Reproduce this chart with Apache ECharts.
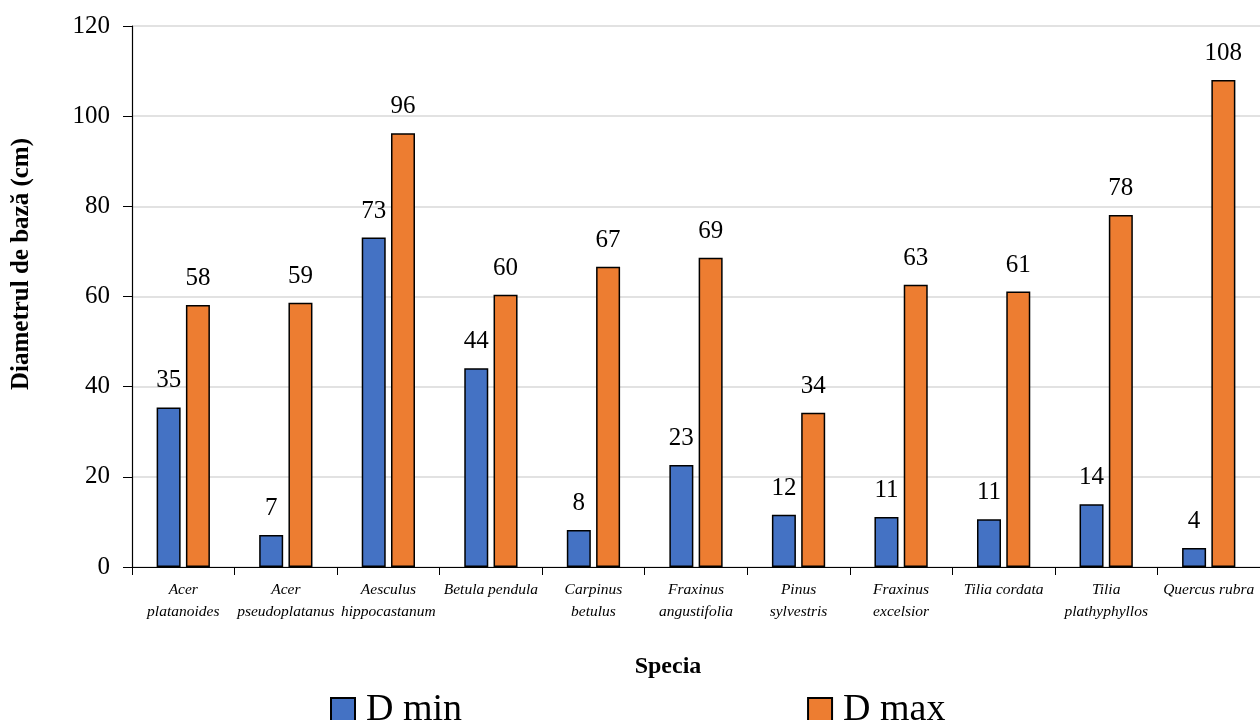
<!DOCTYPE html>
<html><head><meta charset="utf-8">
<script src="https://cdn.jsdelivr.net/npm/echarts@6/dist/echarts.min.js"></script>
<style>html,body{margin:0;padding:0;background:#fff}#c{width:1260px;height:720px}</style>
</head><body><div id="c"></div>
<script>
const categories = ["Acer\nplatanoides","Acer\npseudoplatanus","Aesculus\nhippocastanum","Betula pendula","Carpinus\nbetulus","Fraxinus\nangustifolia","Pinus\nsylvestris","Fraxinus\nexcelsior","Tilia cordata","Tilia\nplathyphyllos","Quercus rubra"];
const dMin = [35.4, 7.1, 73.1, 44.1, 8.2, 22.6, 11.6, 11.1, 10.6, 13.9, 4.2];
const dMax = [58.1, 58.6, 96.2, 60.4, 66.6, 68.6, 34.2, 62.6, 61.1, 78.1, 108.0];
const yTicks = [0, 20, 40, 60, 80, 100, 120];
const FONT = "'Liberation Serif', 'DejaVu Serif', serif";
const chart = echarts.init(document.getElementById('c'));
const lbl = {show:true, position:'top', distance:14, color:'#000', fontSize:25, fontFamily:FONT,
  formatter: p => Math.round(p.value)};
chart.setOption({
  animation:false,
  textStyle:{fontFamily:FONT},
  grid:{left:132, top:26, width:1131, height:541, containLabel:false},
  legend:{data:['D min','D max'], left:325, top:686, itemWidth:24, itemHeight:24, itemGap:345,
    textStyle:{fontSize:38, fontFamily:FONT, color:'#000', padding:[0,0,0,6]}, icon:'rect'},
  xAxis:{type:'category', data:categories,
    axisLine:{lineStyle:{color:'#000', width:1.2}},
    axisTick:{show:true, length:8, lineStyle:{color:'#000'}},
    axisLabel:{fontSize:15.5, fontStyle:'italic', color:'#000', fontFamily:FONT, lineHeight:22, margin:12, interval:0}},
  yAxis:{type:'value', min:yTicks[0], max:yTicks[yTicks.length-1], interval:20,
    axisLine:{show:true, lineStyle:{color:'#000', width:1.2}},
    axisTick:{show:true, length:9, lineStyle:{color:'#000'}},
    axisLabel:{fontSize:25, color:'#000', fontFamily:FONT, margin:22},
    splitLine:{lineStyle:{color:'#d9d9d9', width:1.5}}},
  graphic:[
    {type:'text', x:22, y:264, rotation:Math.PI/2,
      style:{text:'Diametrul de bază (cm)', font:"bold 25px "+FONT, fill:'#000', align:'center', verticalAlign:'middle'}},
    {type:'text', x:668, y:667,
      style:{text:'Specia', font:"bold 24px "+FONT, fill:'#000', align:'center', verticalAlign:'middle'}}
  ],
  series:[
    {name:'D min', type:'bar', data:dMin, barWidth:24, barGap:'22%',
      itemStyle:{color:'#4472C4', borderColor:'#000', borderWidth:1.5}, label:lbl},
    {name:'D max', type:'bar', data:dMax, barWidth:24,
      itemStyle:{color:'#ED7D31', borderColor:'#000', borderWidth:1.5}, label:lbl}
  ]
});
</script></body></html>
